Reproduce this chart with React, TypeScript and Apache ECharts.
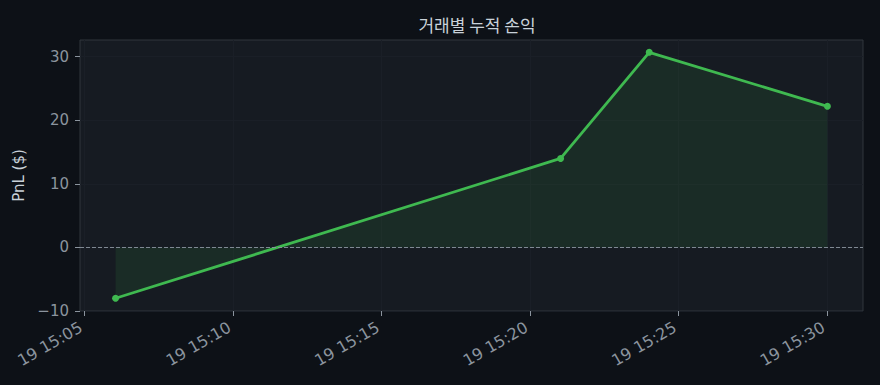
import React, { useEffect, useRef } from 'react';
import * as echarts from 'echarts';

const chartTitle = '거래별 누적 손익';
const yAxisName = 'PnL ($)';
const dayParts = [2025, 3, 19];
const times = ['15:06:03', '15:21:02', '15:24:01', '15:30:01'];
const pnl = [-8.0, 14.0, 30.7, 22.2];
const xTickLabels = ['15:05', '15:10', '15:15', '15:20', '15:25', '15:30'];
const yTicks = [-10, 0, 10, 20, 30];

const toTs = (hms: string) => {
  const [h, m, s = '0'] = hms.split(':');
  return Date.UTC(dayParts[0], dayParts[1] - 1, dayParts[2], +h, +m, +s);
};
const pad = (n: number) => String(n).padStart(2, '0');
const fmtTime = (v: number) => {
  const d = new Date(v);
  return `${pad(d.getUTCDate())} ${pad(d.getUTCHours())}:${pad(d.getUTCMinutes())}`;
};

export default function App() {
  const ref = useRef<HTMLDivElement>(null);
  useEffect(() => {
    document.body.style.margin = '0';
    if (!ref.current) return;
    const chart = echarts.init(ref.current, undefined, { renderer: 'svg' });
    const xs = times.map(toTs);
    const xSpan = xs[xs.length - 1] - xs[0];
    const xMin = xs[0] - 0.05 * xSpan;
    const xMax = xs[xs.length - 1] + 0.05 * xSpan;
    const yLo = Math.min(...pnl);
    const yHi = Math.max(...pnl);
    const ySpan = yHi - yLo;
    const yMin = Math.min(yLo - 0.05 * ySpan, yTicks[0]);
    const yMax = yHi + 0.05 * ySpan;
    const xTicks = xTickLabels.map(toTs);
    const font = 'DejaVu Sans';
    chart.setOption({
      animation: false,
      backgroundColor: '#0d1117',
      textStyle: { fontFamily: font },
      title: {
        text: chartTitle,
        left: 472,
        textAlign: 'center',
        top: 11,
        textStyle: {
          color: '#c9d1d9',
          fontSize: 17,
          fontWeight: 'normal',
          fontFamily: '"Noto Sans CJK KR", "DejaVu Sans"',
        },
      },
      grid: {
        left: 80,
        right: 17,
        top: 40,
        bottom: 74,
        show: true,
        backgroundColor: '#161b22',
        borderColor: '#30363d',
        borderWidth: 1,
      },
      xAxis: {
        type: 'value',
        min: xMin,
        max: xMax,
        axisLine: { show: false, onZero: false },
        axisTick: {
          show: true,
          length: 5,
          lineStyle: { color: '#8b949e' },
          customValues: xTicks,
        },
        axisLabel: {
          customValues: xTicks,
          formatter: (v: number) => fmtTime(v),
          rotate: 30,
          color: '#8b949e',
          fontSize: 16,
          margin: 13,
          padding: [0, 4, 0, 0],
          fontFamily: font,
        },
        splitLine: { show: true, lineStyle: { color: '#1a1f27', width: 1 } },
      },
      yAxis: {
        type: 'value',
        min: yMin,
        max: yMax,
        name: yAxisName,
        nameLocation: 'middle',
        nameGap: 52,
        nameTextStyle: { color: '#c9d1d9', fontSize: 15, fontWeight: 'normal', fontFamily: font },
        axisLine: { show: false, onZero: false },
        axisTick: {
          show: true,
          length: 5,
          lineStyle: { color: '#8b949e' },
          customValues: yTicks,
        },
        axisLabel: {
          customValues: yTicks,
          formatter: (v: number) => String(v).replace('-', '\u2212'),
          color: '#8b949e',
          fontSize: 15,
          margin: 11,
          fontFamily: font,
        },
        splitLine: { show: true, lineStyle: { color: '#1a1f27', width: 1 } },
      },
      series: [
        {
          type: 'line',
          data: xs.map((x, i) => [x, pnl[i]]),
          symbol: 'circle',
          symbolSize: 7,
          lineStyle: { color: '#3fb950', width: 2.8 },
          itemStyle: { color: '#3fb950' },
          areaStyle: { color: 'rgba(63,185,80,0.15)', origin: 0 },
          markLine: {
            silent: true,
            symbol: ['none', 'none'],
            label: { show: false },
            lineStyle: { color: '#8b949e', width: 1, type: [4, 2], opacity: 0.9 },
            data: [{ yAxis: 0 }],
          },
          z: 3,
        },
      ],
    });
    return () => chart.dispose();
  }, []);
  return <div ref={ref} style={{ width: 880, height: 385 }} />;
}
